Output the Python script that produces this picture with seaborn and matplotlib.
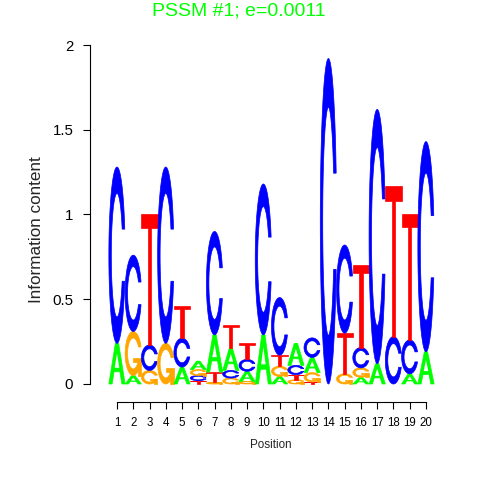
import numpy as np
import matplotlib
matplotlib.use("Agg")
import matplotlib.pyplot as plt
import seaborn as sns

# ---- data: information content per letter, per position ----
positions = list(range(1, 21))
A_vals = [0.24, 0.05, 0.00, 0.00, 0.10, 0.050, 0.22, 0.130, 0.060, 0.29,
          0.045, 0.130, 0.090, 0.00, 0.00, 0.040, 0.12, 0.00, 0.06, 0.19]
C_vals = [1.04, 0.45, 0.15, 1.04, 0.17, 0.030, 0.61, 0.045, 0.070, 0.89,
          0.340, 0.055, 0.115, 1.92, 0.52, 0.120, 1.50, 0.28, 0.20, 1.24]
G_vals = [0.00, 0.26, 0.08, 0.24, 0.00, 0.035, 0.01, 0.035, 0.015, 0.00,
          0.060, 0.025, 0.055, 0.00, 0.06, 0.055, 0.00, 0.00, 0.00, 0.00]
T_vals = [0.00, 0.00, 0.77, 0.00, 0.19, 0.020, 0.06, 0.140, 0.095, 0.00,
          0.065, 0.030, 0.012, 0.00, 0.24, 0.490, 0.00, 0.89, 0.74, 0.00]
y_ticks = [0, 0.5, 1, 1.5, 2]
y_tick_labels = ["0", "0.5", "1", "1.5", "2"]
title_text = "PSSM #1; e=0.0011"
xlabel_text = "Position"
ylabel_text = "Information content"

colors = {"A": "#00FF00", "C": "#0000FF", "G": "#FFA500", "T": "#FF0000"}

sns.set_theme(style="ticks")
plt.rcParams["font.family"] = ["Liberation Sans", "DejaVu Sans"]


def arc_pts(a0, a1, r, n=100):
    ang = np.linspace(a0, a1, n)
    return 0.5 + r * np.sin(ang), 0.5 + r * np.cos(ang)


def c_shape():
    x1, y1 = arc_pts(0.3 + np.pi / 2, np.pi, 0.5)
    x2, y2 = arc_pts(np.pi, 1.5 * np.pi, 0.5)
    xl = np.concatenate([x1, x2]); yl = np.concatenate([y1, y2])
    x = np.concatenate([xl, xl[::-1]]); y = np.concatenate([yl, 1 - yl[::-1]])
    xi1, yi1 = arc_pts(0.3 + np.pi / 2, np.pi, 0.35)
    keep = yi1 <= y1.max()
    xi1 = xi1[keep]; yi1 = yi1[keep]; yi1[0] = y1.max()
    xi2, yi2 = arc_pts(np.pi, 1.5 * np.pi, 0.35)
    xi = np.concatenate([xi1, xi2]); yi = np.concatenate([yi1, yi2])
    xx = np.concatenate([xi, xi[::-1]]); yy = np.concatenate([yi, 1 - yi[::-1]])
    return np.concatenate([x, xx[::-1]]), np.concatenate([y, yy[::-1]]), x1.max()


def letter_polys(letter):
    if letter == "A":
        return [(np.array([0, 4, 6, 10, 8, 6.8, 3.2, 2, 0]) / 10,
                 np.array([0, 10, 10, 0, 0, 3, 3, 0, 0]) / 10, colors["A"]),
                (np.array([3.6, 5, 6.4, 3.6]) / 10,
                 np.array([4, 7.5, 4, 4]) / 10, "white")]
    if letter == "T":
        return [(np.array([0, 10, 10, 6, 6, 4, 4, 0]) / 10,
                 np.array([10, 10, 9, 9, 0, 0, 9, 9]) / 10, colors["T"])]
    if letter == "C":
        x, y, _ = c_shape()
        return [(x, y, colors["C"])]
    if letter == "G":
        x, y, r1 = c_shape()
        h1 = 0.4
        xa = np.array([r1, 0.5, 0.5, r1 - 0.2, r1 - 0.2, r1, r1])
        ya = np.array([h1, h1, h1 - 0.1, h1 - 0.1, 0, 0, h1])
        return [(x, y, colors["G"]), (xa, ya, colors["G"])]


fig = plt.figure(figsize=(4.8, 4.8), dpi=100)
ax = fig.add_axes([90 / 480, 78 / 480, 350 / 480, 362 / 480])
ax.set_xlim(-0.660, 20.861)
ax.set_ylim(-0.1062, 2.0295)

table = {"A": A_vals, "C": C_vals, "G": G_vals, "T": T_vals}
for j, pos in enumerate(positions):
    hts = [(table[L][j], L) for L in "ACGT"]
    hts.sort(key=lambda t: t[0])
    ybase = 0.0
    for h, L in hts:
        if h <= 0:
            continue
        for px, py, col in letter_polys(L):
            ew = 0.5 if col != "white" else 0.0
            ax.fill(pos - 0.5 + px, ybase + h * py, facecolor=col,
                    edgecolor=col, lw=ew, antialiased=True)
        ybase += h

ax.set_xticks(positions)
ax.set_xticklabels([str(p) for p in positions], fontsize=8.3)
ax.set_yticks(y_ticks)
ax.set_yticklabels(y_tick_labels, fontsize=10.8)
ax.tick_params(axis="both", direction="out", length=5, width=0.8, colors="black")
ax.tick_params(axis="x", pad=6)
ax.tick_params(axis="y", pad=7)
sns.despine(ax=ax)
ax.spines["left"].set_bounds(0, 2)
ax.spines["bottom"].set_bounds(1, 20)
for s in ["left", "bottom"]:
    ax.spines[s].set_linewidth(0.8)
    ax.spines[s].set_color("black")
ax.grid(False)
ax.set_facecolor("white")
fig.patch.set_facecolor("white")

fig.text(0.498, 1 - 15 / 480, title_text, color="#00FF00", fontsize=14,
         ha="center", va="baseline")
fig.text(0.5 * (250 + 292) / 480, 1 - 445 / 480, xlabel_text, fontsize=8.4,
         ha="center", va="center")
fig.text(37 / 480, 1 - 230 / 480, ylabel_text, fontsize=12.3, rotation=90,
         ha="center", va="center")

fig.savefig("out.png", dpi=100, facecolor="white")
